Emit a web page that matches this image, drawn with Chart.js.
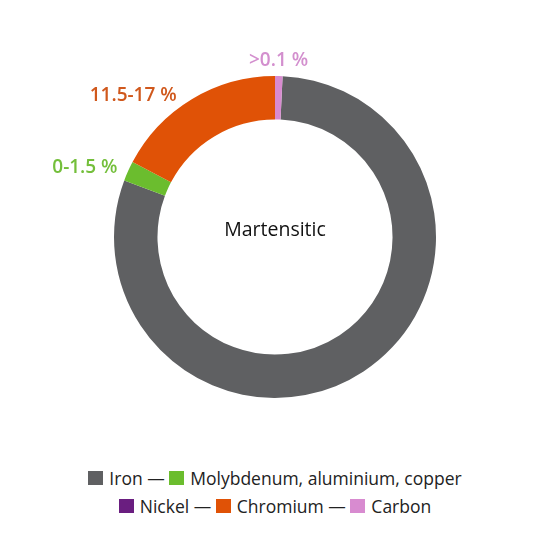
<!DOCTYPE html>
<html>
<head>
<meta charset="utf-8">
<script src="https://cdn.jsdelivr.net/npm/chart.js@4"></script>
<style>
  body { margin:0; background:#fff; font-family:"Open Sans", sans-serif; }
  #wrap { position:relative; width:550px; height:550px; }
  #legend { position:absolute; left:0; top:464px; width:550px; font-size:17.5px; color:#222; }
  .row { display:flex; justify-content:center; align-items:center; height:28px; }
  .item { display:flex; align-items:center; white-space:pre; }
  .box { width:15px; height:14px; margin-right:6px; }
</style>
</head>
<body>
<div id="wrap">
  <canvas id="chart" width="550" height="450"></canvas>
  <div id="legend"></div>
</div>
<script>
// data
const elements = ["Iron", "Molybdenum, aluminium, copper", "Nickel", "Chromium", "Carbon"];
const shares = [80, 2, 0, 17.3, 0.75];
const sliceColors = ["#5f6062", "#6bbd2e", "#6a1e80", "#e05206", "#d88bd0"];
const pointLabels = ["", "0-1.5 %", "", "11.5-17 %", ">0.1 %"];
const labelColors = ["", "#74bf3b", "", "#d0581c", "#d38fce"];
const centerText = "Martensitic";
const legendRows = [[0, 1], [2, 3, 4]];

// labels round the ring + text in the middle
const ringText = {
    id: 'ringText',
    afterDraw(chart) {
        const ctx = chart.ctx;
        const arcs = chart.getDatasetMeta(0).data;
        ctx.save();
        ctx.font = '600 19px "Open Sans", sans-serif';
        ctx.textBaseline = 'middle';
        arcs.forEach((arc, i) => {
            if (!pointLabels[i]) return;
            let ang = arc.startAngle + 0.44 * (arc.endAngle - arc.startAngle);
            let r = arc.outerRadius + 11;
            let x = arc.x + Math.cos(ang) * r;
            let y = arc.y + Math.sin(ang) * r;
            let dx = x - arc.x;
            if (Math.abs(dx) < 20) { ctx.textAlign = 'center'; y -= 4; }
            else ctx.textAlign = dx < 0 ? 'right' : 'left';
            ctx.fillStyle = labelColors[i];
            ctx.fillText(pointLabels[i], x, y);
        });
        let a = arcs[0];
        ctx.font = '19.5px "Open Sans", sans-serif';
        ctx.fillStyle = '#111';
        ctx.textAlign = 'center';
        ctx.fillText(centerText, a.x, a.y - 7);
        ctx.restore();
    }
};

new Chart(document.getElementById('chart'), {
    type: 'doughnut',
    data: {
        labels: elements,
        datasets: [{ data: shares, backgroundColor: sliceColors, borderWidth: 0 }]
    },
    options: {
        responsive: false,
        animation: false,
        cutout: '73%',
        rotation: shares[4] / 100 * 360,
        layout: { padding: { top: 76, bottom: 52 } },
        plugins: { legend: { display: false }, tooltip: { enabled: false } }
    },
    plugins: [ringText]
});

// legend with dashes between items
let html = '';
legendRows.forEach(row => {
    html += '<div class="row">';
    row.forEach((idx, k) => {
        html += `<div class="item"><div class="box" style="background:${sliceColors[idx]}"></div>${elements[idx]}${k < row.length - 1 ? ' \u2014 ' : ''}</div>`;
    });
    html += '</div>';
});
document.getElementById('legend').innerHTML = html;
</script>
</body>
</html>
